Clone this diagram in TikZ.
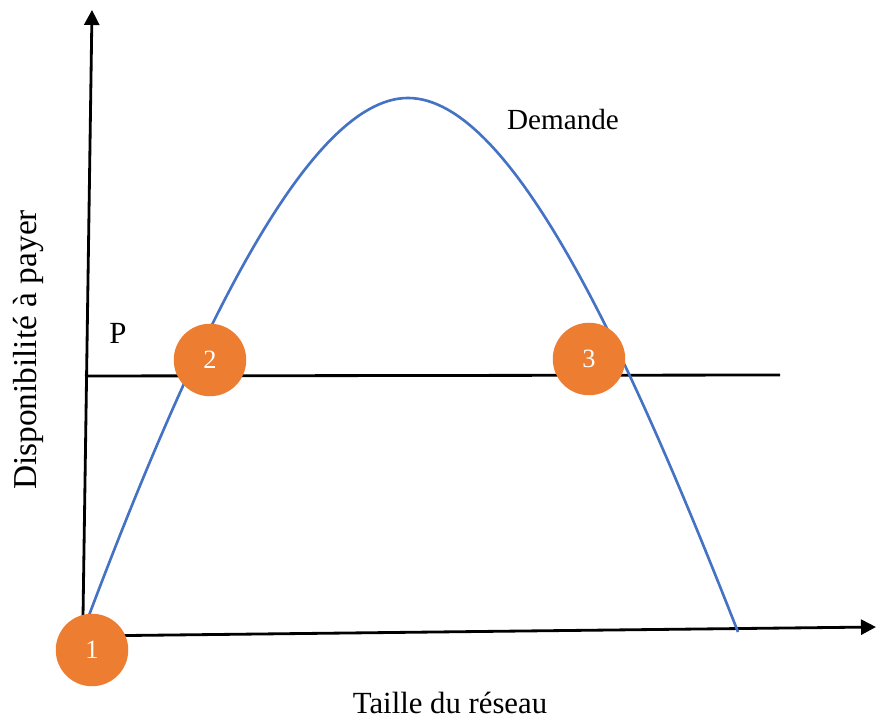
\documentclass[tikz,border=0pt]{standalone}
\usepackage{fontspec}
\setmainfont{Liberation Serif}
\usetikzlibrary{arrows.meta}
\definecolor{dmdblue}{HTML}{4472C4}
\definecolor{ptorange}{HTML}{ED7D31}

\begin{document}
\begin{tikzpicture}[>={Triangle[length=3mm,width=3mm]},
  axe/.style={line width=1.6pt},
  pt/.style={circle,fill=ptorange,text=white,minimum size=1.45cm,inner sep=0pt,font=\fontsize{15}{18}\selectfont},
  lbl/.style={font=\fontsize{17.5}{21}\selectfont}]
\useasboundingbox (0,0) rectangle (17.54,14.5);
\coordinate (O) at (1.66,2.16);
\coordinate (Ytop) at (1.84,14.3);
\coordinate (Xstart) at (1.7,1.78);
\coordinate (Xend) at (17.52,1.96);
\coordinate (Pleft) at (1.7,6.98);
\coordinate (Pright) at (15.6,7.0);
\draw[axe,->] (O) -- (Ytop);
\draw[axe,->] (Xstart) -- (Xend);
\draw[axe] (Pleft) -- (Pright);
\draw[dmdblue,line width=1.5pt] (1.76,2.14) .. controls (3.8,7.55) and (6.12,12.54) .. (8.16,12.54)
  .. controls (10.26,12.54) and (12.61,7.33) .. (14.76,1.86);
\node[pt] (one) at (1.84,1.5) {1};
\node[pt] (two) at (4.2,7.3) {2};
\node[pt] (three) at (11.78,7.32) {3};
\node[lbl] (P) at (2.36,7.84) {P};
\node[font=\fontsize{16.6}{20}\selectfont] (dem) at (11.26,12.1) {Demande};
\node[lbl] (xlab) at (9.0,0.44) {Taille du réseau};
\node[lbl,rotate=90,font=\fontsize{19}{22}\selectfont] (ylab) at (0.56,7.5) {Disponibilité à payer};
\end{tikzpicture}
\end{document}
